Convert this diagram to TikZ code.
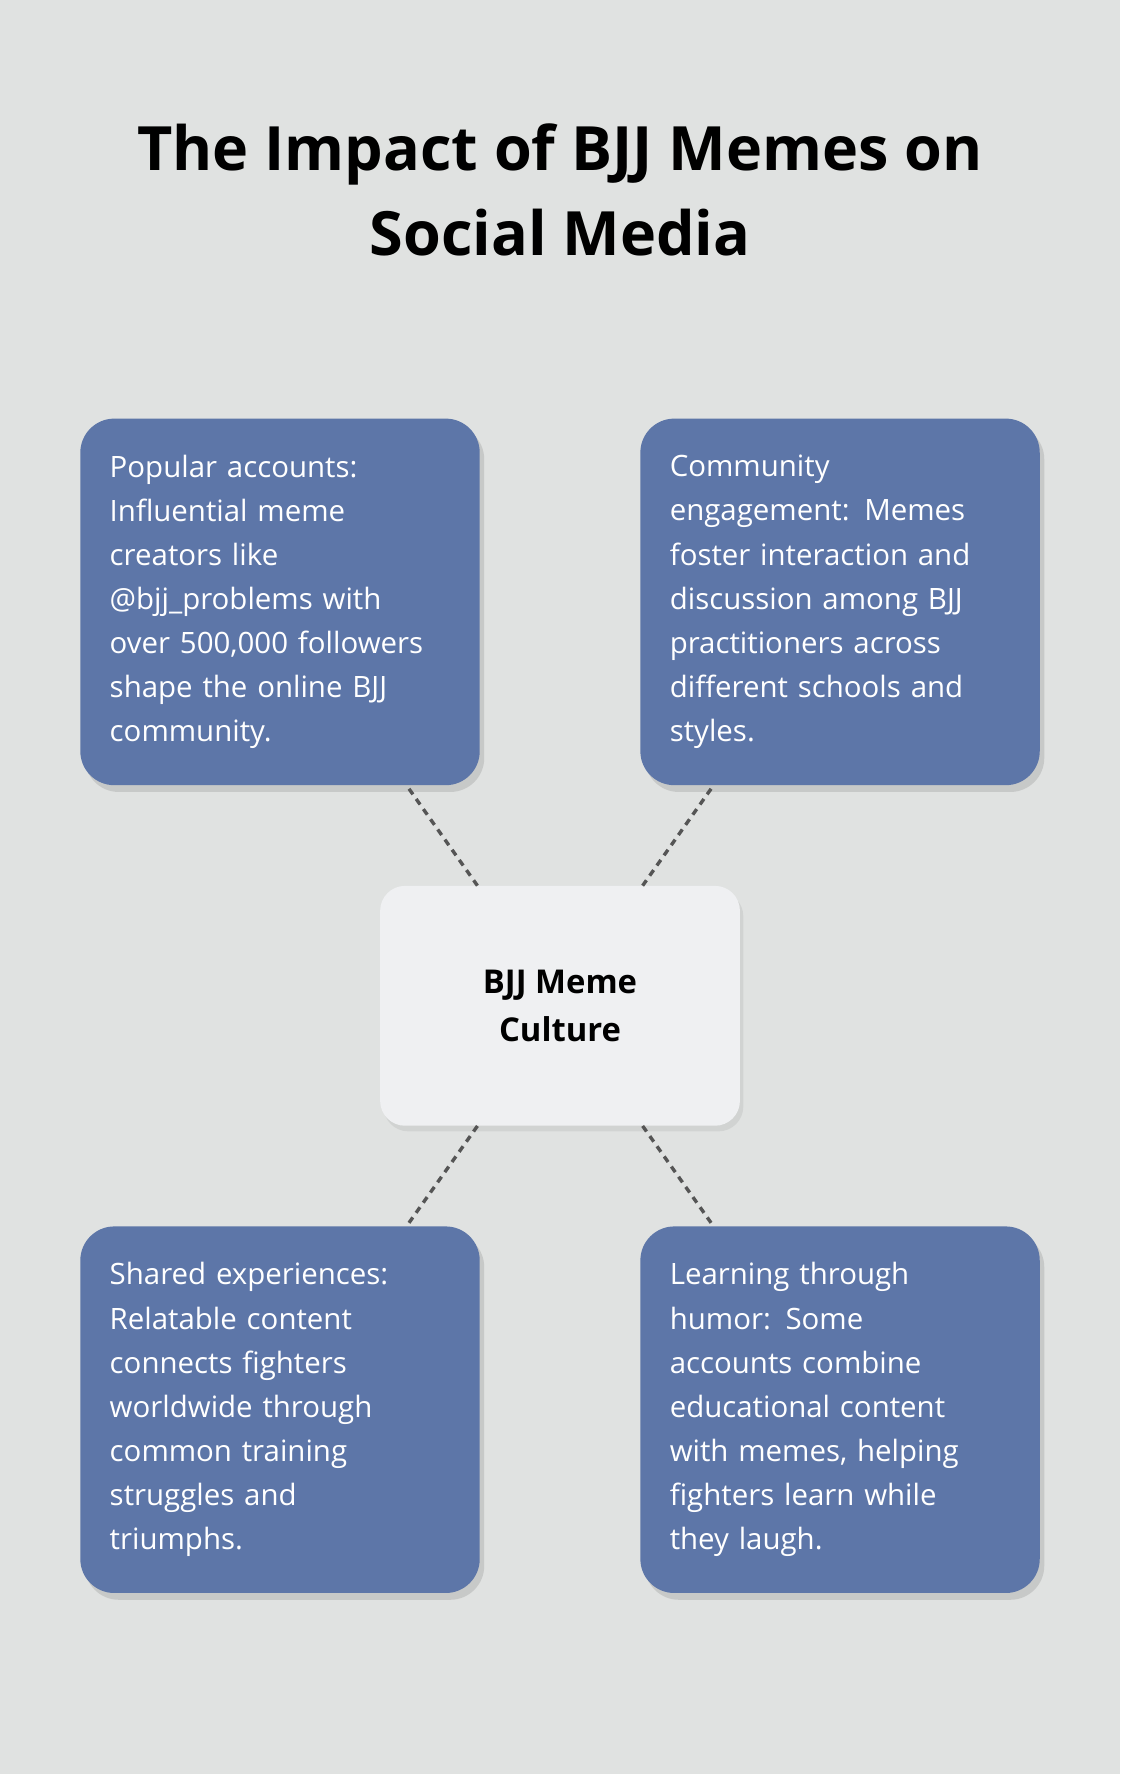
\documentclass[tikz,border=0pt]{standalone}
\usepackage{fontspec}
\setmainfont{Open Sans}
\usetikzlibrary{shadows}
\definecolor{bgc}{HTML}{E0E2E1}
\definecolor{cardblue}{HTML}{5D76A8}
\definecolor{centerc}{HTML}{EFF0F2}
\definecolor{linkc}{HTML}{555555}
\tikzset{
  card/.style={fill=cardblue, rounded corners=30pt, minimum width=353pt, minimum height=324pt,
    text width=301pt, align=left, text=white, inner sep=0pt,
    font=\fontsize{26}{39}\selectfont, drop shadow={shadow xshift=4pt, shadow yshift=-6pt, opacity=0.25}},
  hub/.style={fill=centerc, rounded corners=22pt, minimum width=318pt, minimum height=212pt,
    align=center, font=\fontsize{29}{42}\selectfont\bfseries,
    drop shadow={shadow xshift=3pt, shadow yshift=-5pt, opacity=0.15}},
  link/.style={draw=linkc, line width=3pt, dash pattern=on 6pt off 5pt}
}
\begin{document}
\begin{tikzpicture}[x=1pt,y=-1pt]
\fill[bgc] (0,0) rectangle (990,1568);
\useasboundingbox (0,0) rectangle (990,1568);
% title
\node[font=\fontsize{54}{75}\selectfont\bfseries, align=center] (title) at (495,168)
  {The Impact of BJJ Memes on\\Social Media};
% cards
\node[card] (accounts) at (247.5,532) {Popular accounts:\\Influential meme\\creators like\\@bjj\_problems with\\over 500,000 followers\\shape the online BJJ\\community.};
\node[card] (community) at (742.5,532) {Community\\engagement: Memes\\foster interaction and\\discussion among BJJ\\practitioners across\\different schools and\\styles.};
\node[card] (shared) at (247.5,1246) {Shared experiences:\\Relatable content\\connects fighters\\worldwide through\\common training\\struggles and\\triumphs.};
\node[card] (humor) at (742.5,1246) {Learning through\\humor: Some\\accounts combine\\educational content\\with memes, helping\\fighters learn while\\they laugh.};
% center
\node[hub] (culture) at (495,889) {BJJ Meme\\Culture};
% links
\draw[link] ([xshift=114pt,yshift=-3pt]accounts.south) -- ([xshift=-73pt]culture.north);
\draw[link] ([xshift=-114pt,yshift=-3pt]community.south) -- ([xshift=73pt]culture.north);
\draw[link] ([xshift=-73pt]culture.south) -- ([xshift=114pt,yshift=3pt]shared.north);
\draw[link] ([xshift=73pt]culture.south) -- ([xshift=-114pt,yshift=3pt]humor.north);
\end{tikzpicture}
\end{document}
